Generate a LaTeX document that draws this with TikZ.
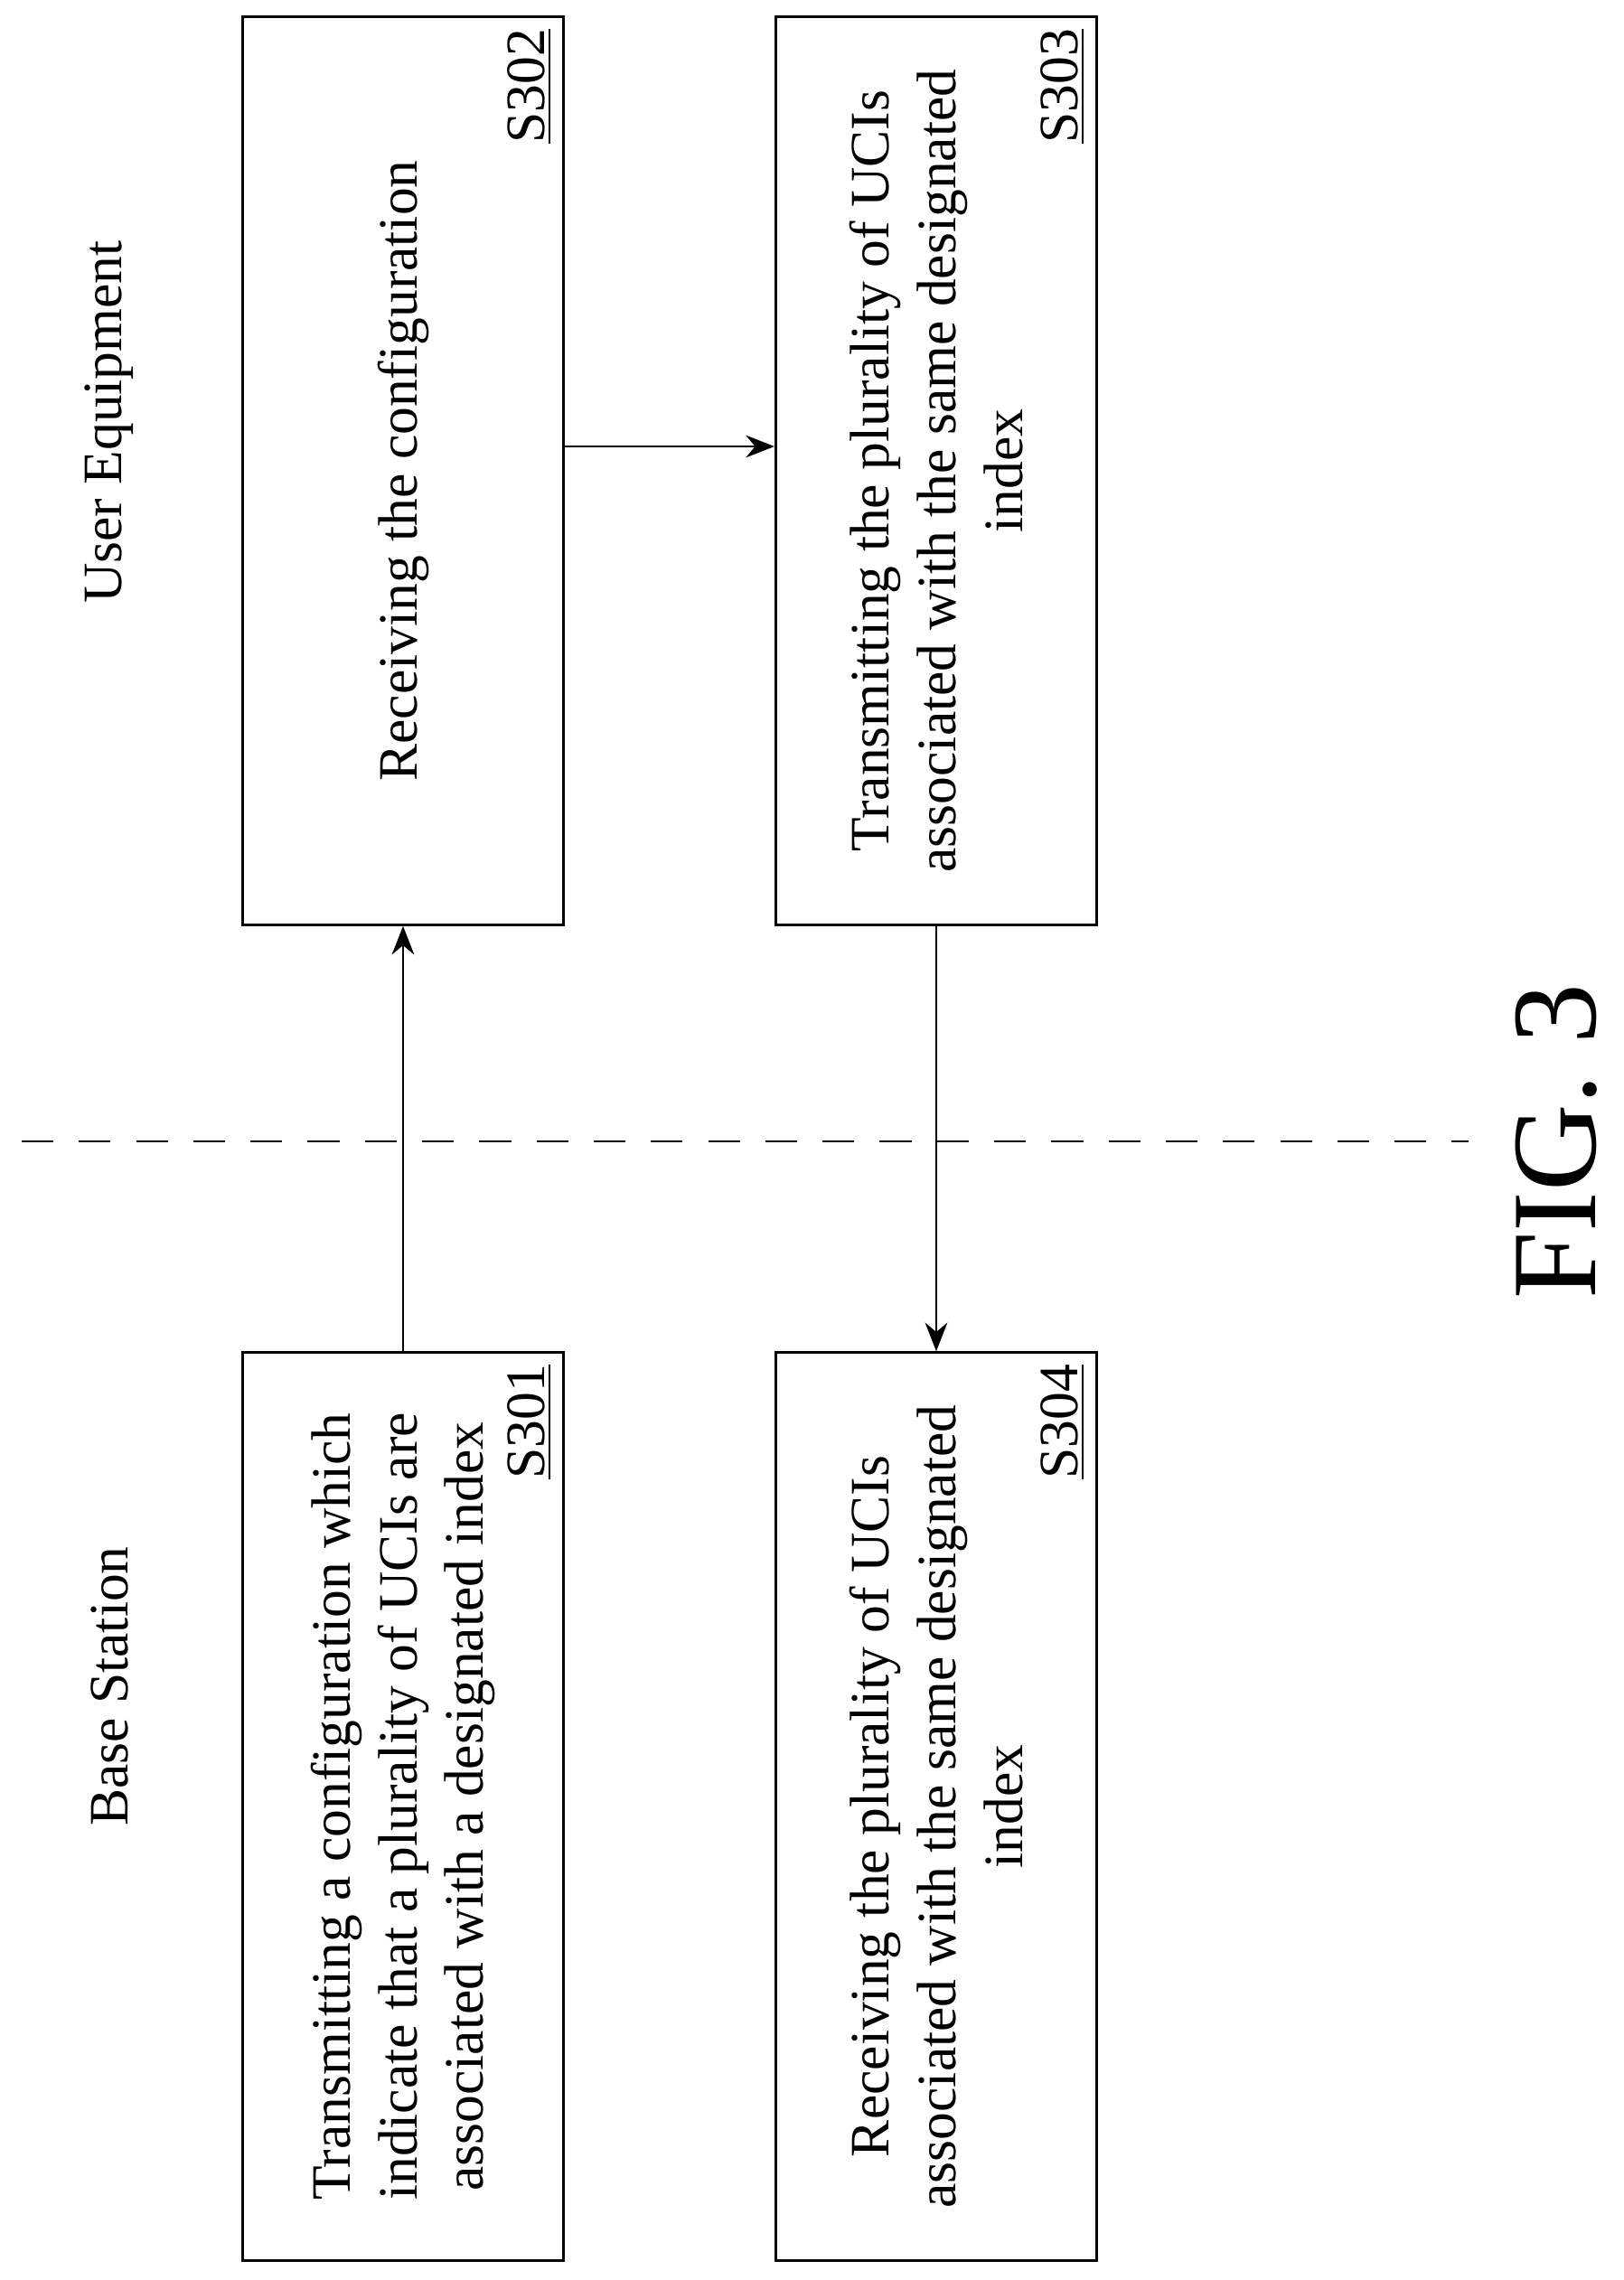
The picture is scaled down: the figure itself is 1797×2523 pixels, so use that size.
\documentclass[tikz,border=0pt]{standalone}
\usepackage{fontspec}
\setmainfont{Liberation Serif}
\usetikzlibrary{arrows.meta,positioning}
\tikzset{
  stepbox/.style={draw,thick,rotate=90,minimum width=10.04cm,minimum height=3.55cm,
    align=center,font=\fontsize{17.5}{21}\selectfont},
  steplabel/.style={rotate=90,inner sep=4pt,font=\fontsize{17.5}{20}\selectfont},
  flow/.style={thick,-{Stealth[length=9pt,width=7pt]}}
}
\begin{document}
\begin{tikzpicture}[x=0.01cm,y=-0.01cm]
    \useasboundingbox (0,0) rectangle (1797,2523);

    % Side headings
    \node[rotate=90,font=\fontsize{17.5}{20}\selectfont] (ue) at (121,467) {User Equipment};
    \node[rotate=90,font=\fontsize{17.5}{20}\selectfont] (bs) at (121,1866) {Base Station};

    % Steps
    \node[stepbox] (s301) at (446,1999) {Transmitting a configuration which\\ indicate that a plurality of UCIs are\\ associated with a designated index};
    \node[stepbox] (s302) at (446,521) {Receiving the configuration};
    \node[stepbox] (s303) at (1036,521) {Transmitting the plurality of UCIs\\ associated with the same designated\\ index};
    \node[stepbox] (s304) at (1036,1999) {Receiving the plurality of UCIs\\ associated with the same designated\\ index};

    % Step numbers
    \foreach \s in {301,302,303,304}
        \node[steplabel,anchor=south east] at (s\s.south east) {\underline{S\s}};

    % Separator
    \coordinate (sepa) at (24,1263);
    \coordinate (sepb) at (1625,1263);
    \draw[thick,dash pattern=on 10pt off 8pt] (sepa) -- (sepb);

    % Messages
    \draw[flow] (s301.east) -- (s302.west);
    \draw[flow] (s302.south |- 0,494) -- (s303.north |- 0,494);
    \draw[flow] (s303.west) -- (s304.east);

    % Caption
    \node[rotate=90,font=\fontsize{38}{44}\selectfont] (fig) at (1722,1263) {FIG. 3};
\end{tikzpicture}
\end{document}
